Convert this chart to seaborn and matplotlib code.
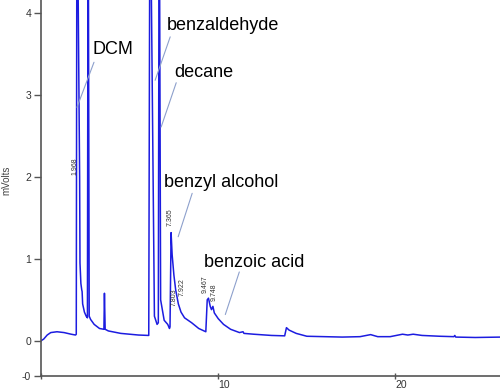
import pandas as pd
import matplotlib
matplotlib.use("Agg")
import matplotlib.pyplot as plt
import seaborn as sns

sns.set_theme(style="ticks")
plt.rcParams["font.family"] = ["Liberation Sans", "DejaVu Sans"]

# Chromatogram trace (time in min, signal in mV)
time = [0.0, 0.15, 0.35, 0.55, 0.9, 1.3, 1.7, 1.95, 1.99, 2.03, 2.18, 2.2, 2.25,
        2.3, 2.32, 2.35, 2.45, 2.55, 2.62, 2.66, 2.72, 2.8, 3.0, 3.3, 3.55, 3.58,
        3.62, 3.8, 4.5, 5.5, 6.08, 6.15, 6.4, 6.55, 6.62, 6.67, 6.75, 6.95, 7.15,
        7.25, 7.28, 7.34, 7.4, 7.5, 7.6, 7.75, 7.9, 8.1, 8.5, 8.9, 9.2, 9.3, 9.38,
        9.45, 9.55, 9.62, 9.7, 9.78, 10.0, 10.3, 10.7, 11.2, 11.4, 11.45, 12.0,
        13.0, 13.75, 13.85, 14.0, 14.4, 15.0, 16.0, 17.0, 18.0, 18.6, 19.0, 19.7,
        20.4, 20.7, 21.0, 21.5, 22.5, 23.3, 23.35, 23.4, 24.5, 26.0]
mvolts = [0.0, 0.02, 0.07, 0.1, 0.11, 0.1, 0.08, 0.07, 0.08, 6.0, 2.0, 0.95, 0.7,
          0.62, 0.6, 0.45, 0.35, 0.3, 0.28, 6.0, 0.3, 0.26, 0.2, 0.15, 0.14, 0.58,
          0.14, 0.12, 0.09, 0.07, 0.065, 6.0, 0.3, 0.2, 0.22, 6.0, 0.5, 0.25, 0.2,
          0.15, 0.17, 1.32, 1.05, 0.8, 0.62, 0.45, 0.35, 0.28, 0.22, 0.15, 0.12,
          0.11, 0.5, 0.52, 0.42, 0.38, 0.42, 0.34, 0.27, 0.2, 0.14, 0.1, 0.11,
          0.09, 0.08, 0.065, 0.06, 0.16, 0.13, 0.09, 0.055, 0.05, 0.045, 0.05,
          0.075, 0.05, 0.05, 0.08, 0.07, 0.08, 0.065, 0.055, 0.05, 0.065, 0.045,
          0.04, 0.045]

# Compound labels: text position and pointer line (from, to)
compounds = ["DCM", "benzaldehyde", "decane", "benzyl alcohol", "benzoic acid"]
label_x = [2.88, 7.12, 7.51, 6.95, 9.21]
label_y = [3.55, 3.85, 3.28, 1.93, 0.95]
line_from = [(2.99, 3.40), (7.29, 3.71), (7.63, 3.15), (8.53, 1.80), (11.19, 0.84)]
line_to = [(2.03, 2.85), (6.44, 3.18), (6.78, 2.61), (7.74, 1.27), (10.40, 0.32)]

# Retention time tags printed next to peaks
rt_text = ["1.968", "7.365", "7.803", "7.922", "9.467", "9.748"]
rt_x = [1.92, 7.30, 7.52, 7.98, 9.28, 9.76]
rt_y = [2.02, 1.40, 0.42, 0.55, 0.58, 0.48]

df = pd.DataFrame({"time": time, "mV": mvolts})

fig = plt.figure(figsize=(5, 3.91), dpi=100)
ax = fig.add_axes([0.082, 0.0384, 0.918, 0.9616])
sns.lineplot(x="time", y="mV", data=df, estimator=None, sort=False,
             color="#1c1ce0", linewidth=1.1, ax=ax)

for name, tx, ty, p0, p1 in zip(compounds, label_x, label_y, line_from, line_to):
    ax.text(tx, ty, name, fontsize=13, color="black", va="center", ha="left")
    ax.plot([p0[0], p1[0]], [p0[1], p1[1]], color="#8da0cc", linewidth=0.8)

for t, x, y in zip(rt_text, rt_x, rt_y):
    ax.text(x, y, t, fontsize=5, rotation=90, color="#333333",
            ha="center", va="bottom")

ax.set_xlim(0, 25.9)
ax.set_ylim(-0.43, 4.16)
ax.set_xticks([0, 10, 20])
ax.set_xticklabels(["", "10", "20"], ha="left")
ax.set_yticks([-0.43, 0, 1, 2, 3, 4])
ax.set_yticklabels(["-0", "0", "1", "2", "3", "4"])
ax.tick_params(axis="y", direction="out", length=5, width=1, color="#555555",
               labelsize=7.5, labelcolor="#333333", pad=2)
ax.tick_params(axis="x", direction="inout", length=4, width=1, color="#555555",
               labelsize=7.5, labelcolor="#333333", pad=1)
ax.set_xlabel("")
ax.set_ylabel("")
for side in ["top", "right"]:
    ax.spines[side].set_visible(False)
for side in ["left", "bottom"]:
    ax.spines[side].set_color("#555555")
    ax.spines[side].set_linewidth(1.2)

fig.text(0.012, 0.54, "mVolts", rotation=90, fontsize=7, color="#444444",
         ha="center", va="center")

plt.savefig("out.png", dpi=100)
plt.close()
